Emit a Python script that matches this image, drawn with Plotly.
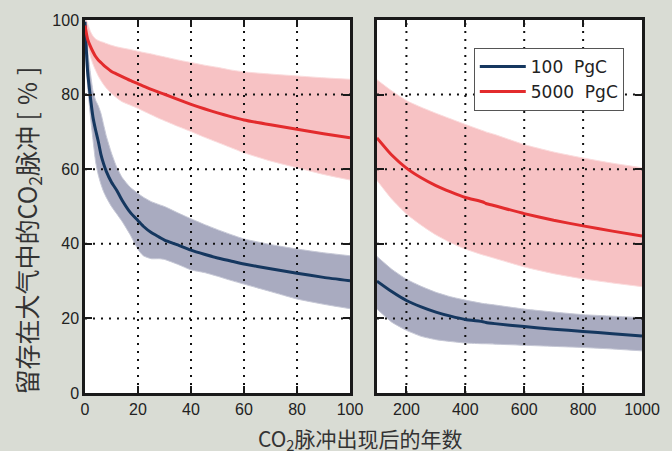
import plotly.graph_objects as go

# ---------------- data ----------------
years_short = [0, 0.5, 1, 2, 3, 4, 5, 6, 7, 8, 10, 12, 14, 17, 20, 22, 25, 28, 30,
               35, 40, 45, 50, 55, 60, 70, 80, 90, 100]
years_long = [100, 150, 200, 250, 300, 350, 400, 460, 470, 500, 600, 700, 800, 900, 1000]

# 100 PgC pulse (left panel)
blue_mean_s = [99.5, 92, 86, 79.5, 74, 70.5, 67.5, 64, 61.5, 59.5, 56.5, 54.3, 51.7, 48.5,
               46.2, 44.7, 43, 41.8, 41.0, 39.7, 38.3, 37.2, 36.2, 35.4, 34.6, 33.3, 32.1, 31.0, 30.1]
blue_upper_s = [100, 96, 92, 86, 81, 78.5, 77, 75, 72, 69, 64.3, 60.5, 57.8, 55.2, 53.5, 52.5,
                51.3, 50.5, 50, 48.3, 46.7, 45.2, 43.8, 42.5, 41.3, 39.8, 38.6, 37.6, 36.8]
blue_lower_s = [98, 88, 82, 74.5, 68, 62, 58.5, 56, 54, 52.5, 50, 48, 46, 42.5, 38.5, 36.8,
                36, 36, 35.8, 34.5, 33, 32.3, 31.3, 30.2, 29.2, 27.2, 25.2, 23.8, 22.6]

# 5000 PgC pulse (left panel)
red_mean_s = [98.5, 96.5, 94.8, 93, 91.5, 90.2, 89.3, 88.6, 87.9, 87.3, 86.2, 85.5, 84.8, 83.8,
              82.9, 82.3, 81.4, 80.6, 80.1, 78.7, 77.4, 76.2, 75.1, 74.1, 73.2, 71.9, 70.7, 69.5, 68.4]
red_upper_s = [100, 100, 99, 97, 95.7, 94.9, 94.5, 94.2, 94, 93.7, 93.2, 92.8, 92.5, 92.1, 91.6,
               91.3, 90.9, 90.4, 90.1, 89.3, 88.6, 87.9, 87.3, 86.6, 86.1, 85.5, 85.0, 84.5, 84.1]
red_lower_s = [97.5, 95, 93, 90.3, 88.2, 86.5, 85, 83.8, 82.7, 81.8, 80.3, 79.1, 78.1, 77.2, 76.3,
               75.6, 74.6, 73.6, 73, 71.5, 70.1, 68.6, 67.2, 65.8, 64.4, 62.2, 60.4, 58.6, 57.1]

# right panel (100-1000 years)
blue_mean_l = [30, 27.2, 24.8, 23.1, 21.7, 20.6, 19.7, 19.1, 18.9, 18.6, 17.8, 17.1, 16.5, 15.9, 15.3]
blue_upper_l = [36.6, 33.2, 30.5, 28.6, 27.0, 25.8, 24.9, 24, 23.9, 23.6, 22.5, 21.7, 21, 20.6, 20.2]
blue_lower_l = [22.5, 19, 16.8, 15.2, 14.3, 13.8, 13.4, 13.2, 13.2, 13.1, 12.8, 12.5, 12.2, 11.8, 11.3]
red_mean_l = [68.4, 63.8, 60.3, 57.7, 55.6, 53.9, 52.4, 51.2, 50.8, 50.2, 48.1, 46.3, 44.8, 43.4, 42.1]
red_upper_l = [84, 81, 78.4, 76.6, 75, 73.5, 72, 70.3, 70, 69.3, 66.6, 64.6, 63, 61.6, 60.4]
red_lower_l = [57, 52, 48, 45, 42.4, 40.3, 38.6, 37, 36.8, 36.1, 33.8, 32, 30.6, 29.5, 28.5]

series_names = ["100\u00a0\u00a0PgC", "5000\u00a0\u00a0PgC"]
xticks_short = [0, 20, 40, 60, 80, 100]
xticks_long = [200, 400, 600, 800, 1000]
yticks = [0, 20, 40, 60, 80, 100]

# ---------------- style ----------------
BG = "#d9dcd4"
RED = "#e32b2d"
RED_FILL = "#f7c2c4"
RED_EDGE = "#fbdcdd"
BLUE = "#15375f"
BLUE_FILL = "#a9abc0"
BLUE_EDGE = "#c6c8d6"
LATIN = "Liberation Sans, Arial, Noto Sans CJK SC, sans-serif"
CJK = "Noto Sans CJK SC, Liberation Sans, sans-serif"
SPL = dict(shape="spline", smoothing=0.5)

fig = go.Figure()

panels = [
    ("x", "y", years_short, [0, 100], xticks_short[1:-1],
     (blue_mean_s, blue_upper_s, blue_lower_s, red_mean_s, red_upper_s, red_lower_s)),
    ("x2", "y2", years_long, [100, 1000], xticks_long[:-1],
     (blue_mean_l, blue_upper_l, blue_lower_l, red_mean_l, red_upper_l, red_lower_l)),
]

for xa, ya, yrs, xr, xgrid, (bm, bu, bl, rm, ru, rl) in panels:
    # bands
    for lo, hi, fc, ec in [(rl, ru, RED_FILL, RED_EDGE), (bl, bu, BLUE_FILL, BLUE_EDGE)]:
        fig.add_trace(go.Scatter(x=yrs, y=lo, mode="lines", line=dict(color=ec, width=1, **SPL),
                                 xaxis=xa, yaxis=ya, showlegend=False, hoverinfo="skip"))
        fig.add_trace(go.Scatter(x=yrs, y=hi, mode="lines", line=dict(color=ec, width=1, **SPL),
                                 fill="tonexty", fillcolor=fc,
                                 xaxis=xa, yaxis=ya, showlegend=False, hoverinfo="skip"))
    # dotted grid above the bands
    for gx in xgrid:
        fig.add_trace(go.Scatter(x=[gx, gx], y=[yticks[0], yticks[-1]], mode="lines",
                                 line=dict(color="#111", width=2, dash="2px,6px"),
                                 xaxis=xa, yaxis=ya, showlegend=False, hoverinfo="skip"))
    for gy in yticks[1:-1]:
        fig.add_trace(go.Scatter(x=xr, y=[gy, gy], mode="lines",
                                 line=dict(color="#111", width=2, dash="2px,6px"),
                                 xaxis=xa, yaxis=ya, showlegend=False, hoverinfo="skip"))
    show = xa == "x2"
    fig.add_trace(go.Scatter(x=yrs, y=bm, mode="lines", line=dict(color=BLUE, width=3, **SPL),
                             name=series_names[0], xaxis=xa, yaxis=ya, showlegend=show,
                             legendrank=1))
    fig.add_trace(go.Scatter(x=yrs, y=rm, mode="lines", line=dict(color=RED, width=3, **SPL),
                             name=series_names[1], xaxis=xa, yaxis=ya, showlegend=show,
                             legendrank=2))

axis_common = dict(showgrid=False, zeroline=False, showline=True, linecolor="#1a1a1a",
                   linewidth=2.5, mirror="ticks", ticks="inside", ticklen=7, tickwidth=2,
                   tickcolor="#1a1a1a", tickfont=dict(family=LATIN, size=16, color="#222"))

fig.update_layout(
    width=672, height=451,
    paper_bgcolor=BG, plot_bgcolor="white",
    margin=dict(l=85, r=30, t=18, b=58),
    xaxis=dict(domain=[0, 0.4758], range=[0, 100], tickvals=xticks_short, anchor="y",
               **axis_common),
    xaxis2=dict(domain=[0.5242, 1], range=[100, 1000], tickvals=xticks_long, anchor="y2",
                **axis_common),
    yaxis=dict(domain=[0, 1], range=[0, 100], tickvals=yticks, anchor="x", **axis_common),
    yaxis2=dict(domain=[0, 1], range=[0, 100], tickvals=yticks, anchor="x2",
                showticklabels=False, **axis_common),
    legend=dict(x=0.698, y=0.9253, xanchor="left", yanchor="top", bgcolor="white",
                bordercolor="#555", borderwidth=1, itemwidth=46, traceorder="normal",
                font=dict(family="DejaVu Sans", size=17, color="#222"),
                tracegroupgap=0),
    showlegend=True,
    annotations=[
        dict(text="留存在大气中的CO<sub>2</sub>脉冲 <span style=\"letter-spacing:7px\">[%]</span>",
             xref="paper", yref="paper",
             x=0, y=0.5, xanchor="center", yanchor="middle", xshift=-58, yshift=-21,
             textangle=-90, showarrow=False, font=dict(family=CJK, size=25, color="#333")),
        dict(text="CO<sub>2</sub>脉冲出现后的年数", xref="paper", yref="paper",
             x=0.4937, y=0, xanchor="center", yanchor="middle", yshift=-46,
             showarrow=False, font=dict(family=CJK, size=21, color="#333")),
    ],
)

fig.write_html(
    "out.html",
    config={"displayModeBar": False},
    post_script=("document.body.style.margin='0';document.body.style.padding='0';"
                 "document.body.style.background='#d9dcd4';"),
)
